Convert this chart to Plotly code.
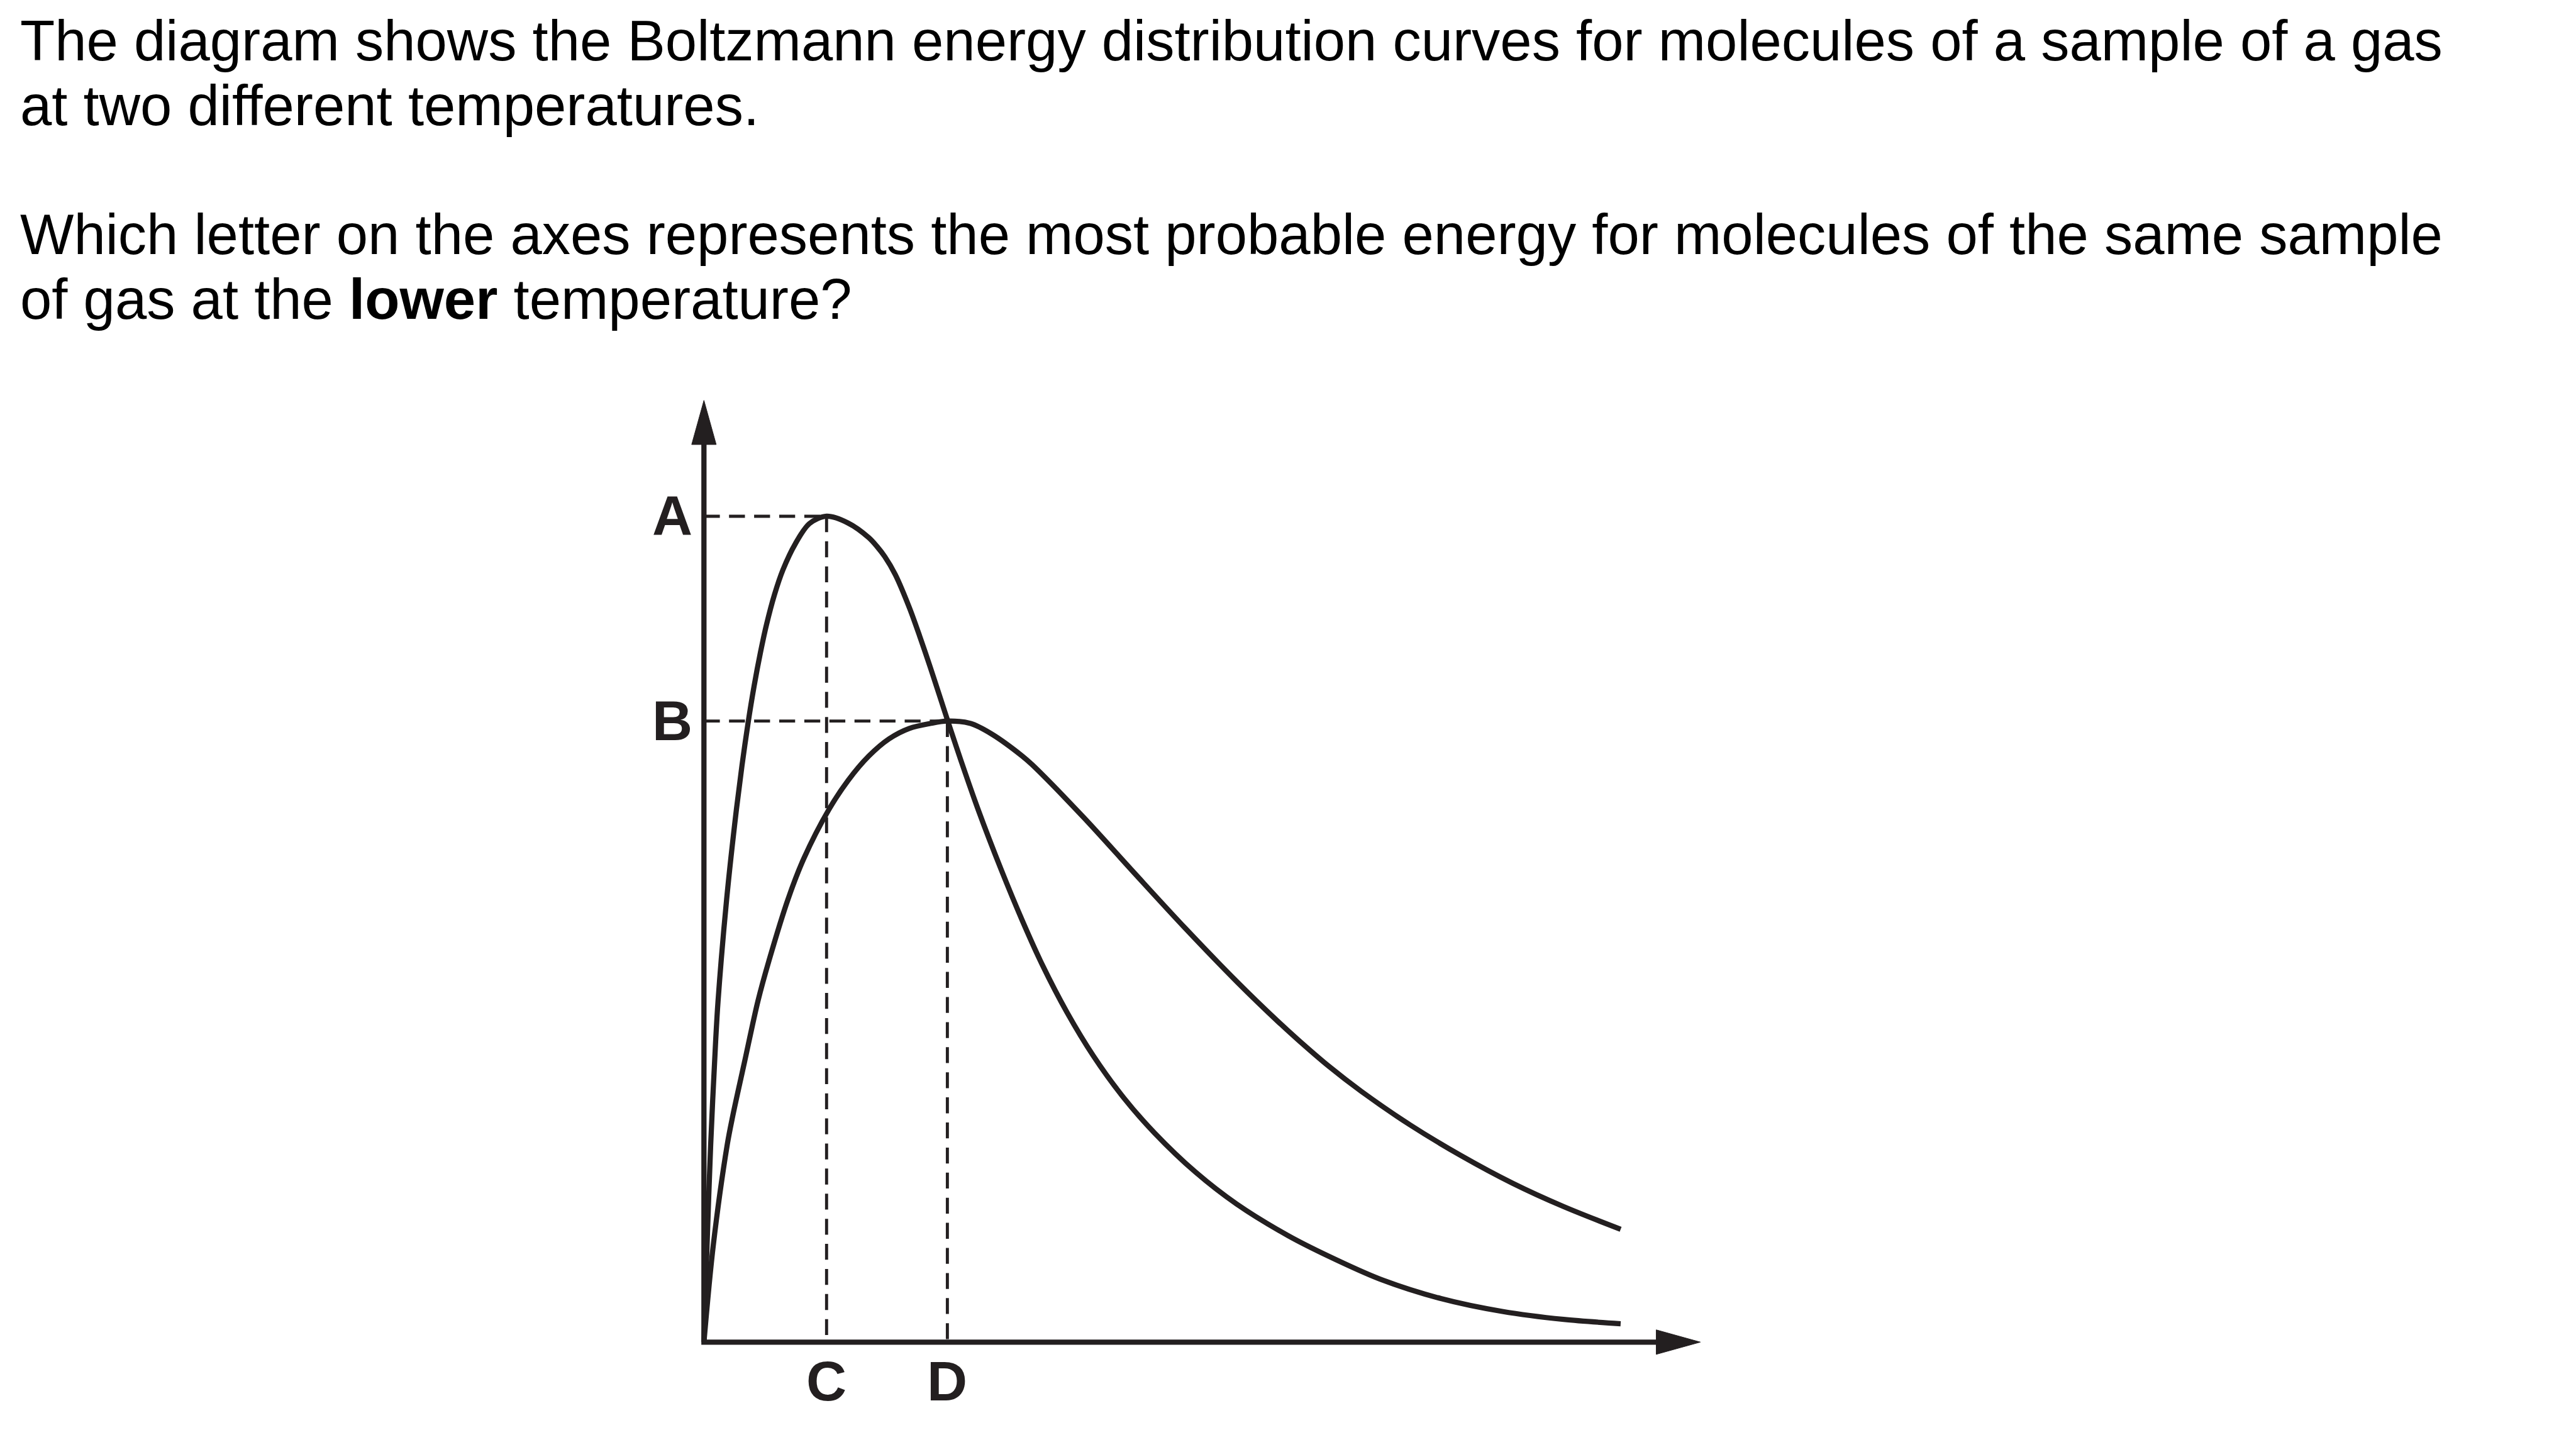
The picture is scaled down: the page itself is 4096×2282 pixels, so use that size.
import plotly.graph_objects as go

# ---------------- data (units: energy / fraction, arbitrary) ----------------
# Lower temperature curve (tall, narrow)
low_T_x = [0.00, 0.05, 0.11, 0.19, 0.23, 0.37, 0.53, 0.62, 0.72, 0.82, 0.92, 1.02, 1.15, 1.29, 1.49,
           1.72, 2.00, 2.35, 2.69, 2.82, 2.95, 3.12, 3.35, 3.52, 3.69, 3.85, 4.00, 4.19, 4.47, 4.85, 5.19,
           5.52, 5.92, 6.35, 6.85, 7.35, 8.02, 8.69, 9.52, 10.19, 11.02, 12.02, 13.02, 14.02, 14.95]
low_T_y = [0.00, 1.56, 3.22, 4.89, 5.56, 7.22, 8.69, 9.40, 10.10, 10.71, 11.24, 11.70, 12.19, 12.60, 13.02,
           13.35, 13.47, 13.36, 13.12, 12.98, 12.81, 12.52, 11.98, 11.51, 11.01, 10.52, 10.06, 9.49, 8.69, 7.70, 6.88,
           6.15, 5.38, 4.67, 3.98, 3.41, 2.77, 2.25, 1.74, 1.40, 1.03, 0.71, 0.50, 0.37, 0.30]

# Higher temperature curve (lower, broader)
high_T_x = [0.00, 0.15, 0.38, 0.47, 0.66, 0.88, 1.06, 1.37, 1.63, 2.04, 2.35, 2.69, 3.02, 3.35,
            3.69, 3.97, 4.35, 4.69, 5.19, 5.35, 6.19, 7.02, 7.85, 8.69, 9.35, 9.69, 10.19, 10.72, 11.52,
            12.35, 13.19, 14.02, 14.95]
high_T_y = [0.00, 1.56, 3.22, 3.69, 4.56, 5.56, 6.22, 7.22, 7.89, 8.69, 9.16, 9.56, 9.84, 10.01,
            10.09, 10.13, 10.09, 9.92, 9.56, 9.42, 8.56, 7.65, 6.75, 5.88, 5.24, 4.93, 4.50, 4.09, 3.54,
            3.04, 2.59, 2.21, 1.84]

y_labels = ["A", "B"]   # most probable fraction (peak heights)
x_labels = ["C", "D"]   # most probable energies

question_lines = [
    "The diagram shows the Boltzmann energy distribution curves for molecules of a sample of a gas",
    "at two different temperatures.",
    "Which letter on the axes represents the most probable energy for molecules of the same sample",
    "of gas at the <b>lower</b> temperature?",
]

# ---------------- layout constants ----------------
S = 0.975                     # drawing scale
W, H = 4096, 2282
UNIT = 100 * S                # px per data unit
X0, Y0 = 11.48, 21.89         # data offsets of the page top-left corner
x_range = [-X0, W / UNIT - X0]
y_range = [Y0 - H / UNIT, Y0]

INK = "#231f20"
FONT = "Liberation Sans, Arial, Helvetica, sans-serif"
FS = 92.8 * S
LW_AXIS = 8.5 * S
LW_CURVE = 8.5 * S
LW_DASH = 5 * S
DASH = f"{26*S:.1f}px,{15*S:.1f}px"

AX_X_END, AX_Y_END = 16.25, 15.36     # arrow tips
HEAD_LEN, HEAD_HALF = 0.72, 0.20

text_x = -11.15
text_y = [21.23, 20.17, 18.07, 17.01]

fig = go.Figure()


def peak(xs, ys):
    i = max(range(len(ys)), key=lambda k: ys[k])
    return xs[i], ys[i]


pk_low = peak(low_T_x, low_T_y)
pk_high = peak(high_T_x, high_T_y)

# dashed guide lines
for (px, py) in (pk_low, pk_high):
    fig.add_trace(go.Scatter(x=[0, px], y=[py, py], mode="lines",
                             line=dict(color=INK, width=LW_DASH, dash=DASH),
                             hoverinfo="skip", showlegend=False))
    fig.add_trace(go.Scatter(x=[px, px], y=[py, 0], mode="lines",
                             line=dict(color=INK, width=LW_DASH, dash=DASH),
                             hoverinfo="skip", showlegend=False))

# curves
for xs, ys in ((low_T_x, low_T_y), (high_T_x, high_T_y)):
    fig.add_trace(go.Scatter(x=xs, y=ys, mode="lines",
                             line=dict(color=INK, width=LW_CURVE, shape="spline", smoothing=0.9),
                             hoverinfo="skip", showlegend=False))

# axes
fig.add_trace(go.Scatter(x=[0, 0, AX_X_END - HEAD_LEN], y=[AX_Y_END - HEAD_LEN, 0, 0], mode="lines",
                         line=dict(color=INK, width=LW_AXIS), hoverinfo="skip", showlegend=False))
# arrow heads
fig.add_trace(go.Scatter(x=[-HEAD_HALF, 0, HEAD_HALF, -HEAD_HALF],
                         y=[AX_Y_END - HEAD_LEN, AX_Y_END, AX_Y_END - HEAD_LEN, AX_Y_END - HEAD_LEN],
                         mode="lines", fill="toself", fillcolor=INK, line=dict(color=INK, width=1),
                         hoverinfo="skip", showlegend=False))
fig.add_trace(go.Scatter(x=[AX_X_END - HEAD_LEN, AX_X_END, AX_X_END - HEAD_LEN, AX_X_END - HEAD_LEN],
                         y=[-HEAD_HALF, 0, HEAD_HALF, -HEAD_HALF],
                         mode="lines", fill="toself", fillcolor=INK, line=dict(color=INK, width=1),
                         hoverinfo="skip", showlegend=False))

annotations = []
for t, y in zip(question_lines, text_y):
    annotations.append(dict(x=text_x, y=y, xref="x", yref="y", text=t, showarrow=False,
                            xanchor="left", yanchor="middle", borderpad=0, borderwidth=0,
                            font=dict(family=FONT, size=FS, color="#000000")))
for lab, (px, py) in zip(y_labels, (pk_low, pk_high)):
    annotations.append(dict(x=-0.52, y=py, xref="x", yref="y", text=f"<b>{lab}</b>", showarrow=False,
                            xanchor="center", yanchor="middle", borderpad=0, borderwidth=0,
                            font=dict(family=FONT, size=91 * S, color=INK)))
for lab, (px, py) in zip(x_labels, (pk_low, pk_high)):
    annotations.append(dict(x=px, y=-0.64, xref="x", yref="y", text=f"<b>{lab}</b>", showarrow=False,
                            xanchor="center", yanchor="middle", borderpad=0, borderwidth=0,
                            font=dict(family=FONT, size=91 * S, color=INK)))

fig.update_layout(
    width=W, height=H,
    margin=dict(l=0, r=0, t=0, b=0, pad=0),
    paper_bgcolor="white", plot_bgcolor="white",
    xaxis=dict(range=x_range, visible=False, fixedrange=True),
    yaxis=dict(range=y_range, visible=False, fixedrange=True),
    annotations=annotations,
    showlegend=False,
)

fig.write_html("out.html", post_script="document.body.style.margin='0';")
